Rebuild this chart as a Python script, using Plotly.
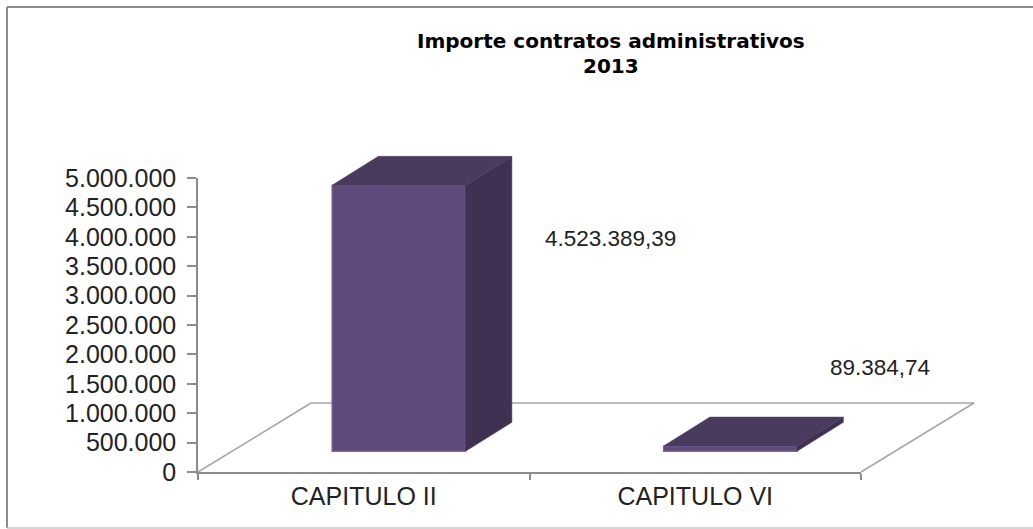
import plotly.graph_objects as go

categories = ["CAPITULO II", "CAPITULO VI"]
values = [4523389.39, 89384.74]
value_labels = ["4.523.389,39", "89.384,74"]
y_ticks = [0, 500000, 1000000, 1500000, 2000000, 2500000, 3000000, 3500000, 4000000, 4500000, 5000000]
y_tick_labels = ["0", "500.000", "1.000.000", "1.500.000", "2.000.000", "2.500.000",
                 "3.000.000", "3.500.000", "4.000.000", "4.500.000", "5.000.000"]
title_lines = ["Importe contratos administrativos", "2013"]

W, H = 1033, 529
AX_L, AX_R, AX_T, AX_B = 198, 861, 178, 472
PX_X = (AX_R - AX_L) / 2          # px per category
PX_Y = (AX_B - AX_T) / 5000000    # px per value unit
DEPTH_X, DEPTH_Y = 113 / PX_X, 69 / PX_Y
FRONT, BACK = 0.31, 0.72
BAR_W = 133.5 / PX_X

FONT = "Liberation Sans"
TEXT = "#222222"
GRAY = "#8C8C8C"
FACE, EDGE, TOP, SIDE = "#604A7B", "#7E66A3", "#4A3A5E", "#403152"

fig = go.Figure()

# bars
centers = [i + 0.5 for i in range(len(categories))]
for c, v in zip(centers, values):
    xl = c + FRONT * DEPTH_X - BAR_W / 2
    xr = xl + BAR_W
    y0 = 0.3 * DEPTH_Y
    dx, dy = (BACK - FRONT) * DEPTH_X, (0.72 - 0.3) * DEPTH_Y
    fig.add_trace(go.Scatter(
        x=[xr, xr + dx, xr + dx, xr, xr], y=[y0, y0 + dy, y0 + v + dy, y0 + v, y0],
        xaxis="x2", yaxis="y2", mode="lines", fill="toself", fillcolor=SIDE,
        line=dict(color=SIDE, width=0.5), hoverinfo="skip"))
    fig.add_trace(go.Scatter(
        x=[xl, xl + dx, xr + dx, xr, xl], y=[y0 + v, y0 + v + dy, y0 + v + dy, y0 + v, y0 + v],
        xaxis="x2", yaxis="y2", mode="lines", fill="toself", fillcolor=TOP,
        line=dict(color=TOP, width=0.5), hoverinfo="skip"))
    fig.add_trace(go.Bar(
        x=[xl + BAR_W / 2], y=[v], base=[y0], width=[BAR_W],
        xaxis="x2", yaxis="y2", marker=dict(color=FACE, line=dict(color=EDGE, width=1.2)), hoverinfo="skip"))

# invisible traces so the visible axes exist
fig.add_trace(go.Scatter(x=centers, y=values, xaxis="x", yaxis="y", mode="markers",
                         marker=dict(opacity=0), hoverinfo="skip"))
fig.add_trace(go.Scatter(x=centers, y=values, xaxis="x3", yaxis="y", mode="markers",
                         marker=dict(opacity=0), hoverinfo="skip"))


def hline(x0, y0, x1, y1, color, width):
    return dict(type="line", xref="paper", yref="paper", x0=x0 / W, x1=x1 / W, y0=1 - y0 / H, y1=1 - y1 / H,
                line=dict(color=color, width=width), layer="below")


floor = [((0, 0), (DEPTH_X, DEPTH_Y)), ((DEPTH_X, DEPTH_Y), (2 + DEPTH_X, DEPTH_Y)), ((2 + DEPTH_X, DEPTH_Y), (2, 0))]
floor_shapes = [dict(type="line", xref="x2", yref="y2", x0=a[0], y0=a[1], x1=b[0], y1=b[1],
                     line=dict(color="#A6A6A6", width=1.5), layer="below") for a, b in floor]

fig.update_layout(
    width=W, height=H, margin=dict(l=0, r=0, t=0, b=0, autoexpand=False),
    paper_bgcolor="white", plot_bgcolor="rgba(0,0,0,0)", showlegend=False, barmode="overlay",
    font=dict(family=FONT, color=TEXT),
    xaxis=dict(domain=[AX_L / W, AX_R / W], range=[0, 2], anchor="y", tickmode="array",
               tickvals=[0, 1, 2], ticktext=["", "", ""], ticks="outside", ticklen=6, tickwidth=1.5,
               tickcolor=GRAY, showgrid=False, zeroline=False, showline=True, linecolor=GRAY, linewidth=1.5),
    xaxis3=dict(overlaying="x", range=[0, 2], anchor="y", tickmode="array",
                tickvals=centers, ticktext=categories,
                ticks="", showgrid=False, zeroline=False, showline=False, ticklabelstandoff=7,
                tickfont=dict(family=FONT, size=25, color=TEXT)),
    yaxis=dict(domain=[1 - AX_B / H, 1 - AX_T / H], range=[0, 5000000], anchor="x", tickmode="array",
               tickvals=y_ticks, ticktext=y_tick_labels, ticks="outside", ticklen=9, tickwidth=1.5,
               tickcolor=GRAY, showgrid=False, zeroline=False, showline=True, linecolor=GRAY, linewidth=1.5,
               ticklabelstandoff=6, tickfont=dict(family=FONT, size=25, color=TEXT)),
    xaxis2=dict(domain=[0, 1], range=[-AX_L / PX_X, (W - AX_L) / PX_X], anchor="y2", visible=False),
    yaxis2=dict(domain=[0, 1], range=[-(H - AX_B) / PX_Y, AX_B / PX_Y], anchor="x2", visible=False),
    shapes=[hline(7, 7, W, 7, "#8C8C8C", 2), hline(7, 7, 7, 528, "#8C8C8C", 2),
            hline(7, 528, W, 528, "#C8C8C8", 1.5)] + floor_shapes,
    annotations=[
        dict(text="<b>" + title_lines[0] + "</b>", xref="paper", yref="paper",
             x=611 / W, y=1 - 41 / H, xanchor="center", yanchor="middle", showarrow=False,
             font=dict(family="DejaVu Sans", size=20, color="#000000")),
        dict(text="<b>" + title_lines[1] + "</b>", xref="paper", yref="paper",
             x=611 / W, y=1 - 66 / H, xanchor="center", yanchor="middle", showarrow=False,
             font=dict(family="DejaVu Sans", size=20, color="#000000")),
        dict(text=value_labels[0], xref="paper", yref="paper", x=610 / W, y=1 - 238 / H, xanchor="center",
             yanchor="middle", showarrow=False, font=dict(family=FONT, size=22.5, color=TEXT)),
        dict(text=value_labels[1], xref="paper", yref="paper", x=880 / W, y=1 - 367 / H, xanchor="center",
             yanchor="middle", showarrow=False, font=dict(family=FONT, size=22.5, color=TEXT)),
    ],
)

fig.write_html("out.html", config={"displayModeBar": False},
               post_script="document.body.style.margin='0';document.body.style.overflow='hidden';")
